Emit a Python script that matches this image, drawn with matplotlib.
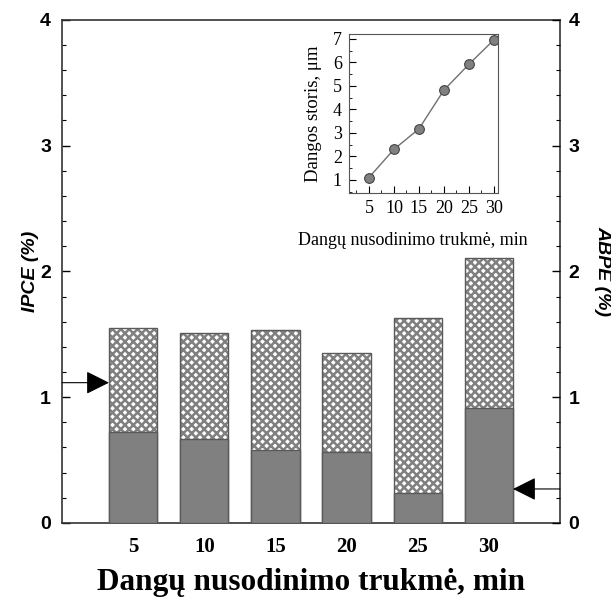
"""
IPCE / ABPE bar chart with coating-thickness inset.
"""

import matplotlib
matplotlib.use("Agg")
import matplotlib.pyplot as plt
from matplotlib.ticker import MultipleLocator

SERIF = "Liberation Serif"
SANS = "Liberation Sans"
GRAY = "#808080"
EDGE = "#5a5a5a"

# deposition time, min
times = [5, 10, 15, 20, 25, 30]
tick_labels = ["5", "10", "15", "20", "25", "30"]
# total bar height (hatched top) and ABPE part (solid)
ipce = [1.55, 1.51, 1.53, 1.35, 1.63, 2.11]
abpe = [0.72, 0.67, 0.58, 0.56, 0.24, 0.91]
# inset: coating thickness, um
thickness = [1.1, 2.3, 3.17, 4.82, 5.92, 6.96]

# arrow levels pointing to the axis each bar series belongs to
ipce_arrow = 1.115
abpe_arrow = 0.27

plt.rcParams["hatch.linewidth"] = 1.8
plt.rcParams["hatch.color"] = GRAY

fig = plt.figure(figsize=(6.11, 5.99), dpi=100)
ax = fig.add_axes([0.1015, 0.127, 0.815, 0.840])

bar_w = 3.4
ax.bar(times, ipce, width=bar_w, color="white", edgecolor=GRAY, hatch="xxxx", linewidth=0, zorder=2)
ax.bar(times, ipce, width=bar_w, color="none", edgecolor=EDGE, linewidth=1.0, zorder=3)
ax.bar(times, abpe, width=bar_w, color=GRAY, edgecolor=EDGE, linewidth=1.0, zorder=4)

ax.set_xlim(0, 35)
ax.set_ylim(0, 4)
ax.set_xticks(times)
ax.set_xticklabels(tick_labels, fontfamily=SERIF, fontweight="bold", fontsize=15)
ax.tick_params(axis="x", length=0, pad=10)
ax.yaxis.set_major_locator(MultipleLocator(1))
ax.yaxis.set_minor_locator(MultipleLocator(0.2))
ax.tick_params(axis="y", which="major", direction="in", length=6, width=1, labelsize=14, pad=8)
ax.tick_params(axis="y", which="minor", direction="in", length=3, width=0.8)
for lab in ax.get_yticklabels():
    lab.set_fontfamily(SANS)
    lab.set_fontweight("bold")
for sp in ax.spines.values():
    sp.set_color("#333333")
    sp.set_linewidth(1.2)

ax.set_ylabel("IPCE (%)", fontfamily=SANS, fontweight="bold", fontstyle="italic", fontsize=14, labelpad=1)
ax.set_xlabel("Dangų nusodinimo trukmė, min", fontfamily=SERIF, fontweight="bold", fontsize=22.5, labelpad=8)

ax2 = ax.twinx()
ax2.set_ylim(0, 4)
ax2.yaxis.set_major_locator(MultipleLocator(1))
ax2.yaxis.set_minor_locator(MultipleLocator(0.2))
ax2.tick_params(axis="y", which="major", direction="in", length=6, width=1, labelsize=14, pad=6)
ax2.tick_params(axis="y", which="minor", direction="in", length=3, width=0.8)
for lab in ax2.get_yticklabels():
    lab.set_fontfamily(SANS)
    lab.set_fontweight("bold")
ax2.set_ylabel("ABPE (%)", fontfamily=SANS, fontweight="bold", fontstyle="italic", fontsize=14,
               rotation=270, labelpad=23)
for sp in ax2.spines.values():
    sp.set_visible(False)

arrow = dict(arrowstyle="-|>,head_length=0.9,head_width=0.45", color="black", lw=0.8,
             mutation_scale=16, shrinkA=0, shrinkB=0)
ax.annotate("", xy=(times[0] - bar_w / 2, ipce_arrow), xytext=(0, ipce_arrow), arrowprops=arrow, zorder=5)
ax2.annotate("", xy=(times[-1] + bar_w / 2, abpe_arrow), xytext=(35, abpe_arrow), arrowprops=arrow, zorder=5)

# inset
ins = fig.add_axes([0.571, 0.678, 0.244, 0.265])
ins.plot(times, thickness, "-o", color="#707070", lw=1.0, ms=7,
         markerfacecolor=GRAY, markeredgecolor="#444444", markeredgewidth=0.8)
ins.set_xlim(1, 30.8)
ins.set_ylim(0.45, 7.2)
ins.set_xticks(times)
ins.xaxis.set_minor_locator(MultipleLocator(2.5))
ins.yaxis.set_major_locator(MultipleLocator(1))
ins.yaxis.set_minor_locator(MultipleLocator(0.5))
ins.tick_params(which="major", direction="in", length=5, labelsize=13, pad=5)
ins.tick_params(which="minor", direction="in", length=2.5)
for lab in ins.get_xticklabels() + ins.get_yticklabels():
    lab.set_fontfamily(SERIF)
ins.set_xlabel("Dangų nusodinimo trukmė, min", fontfamily=SERIF, fontsize=13)
ins.xaxis.set_label_coords(0.43, -0.245)
ins.set_ylabel("Dangos storis, μm", fontfamily=SERIF, fontsize=13.5, labelpad=8)
for sp in ins.spines.values():
    sp.set_color("#555555")

fig.savefig("out.png", dpi=100, facecolor="white")
plt.close(fig)
